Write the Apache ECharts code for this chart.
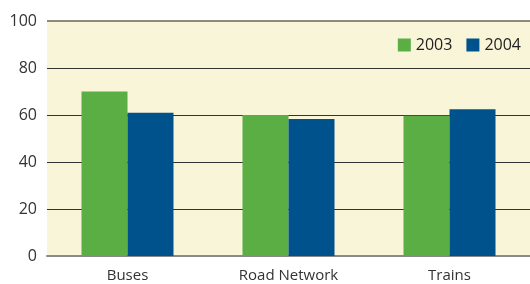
<!DOCTYPE html>
<html>
<head>
<meta charset="utf-8">
<script src="https://cdn.jsdelivr.net/npm/echarts@6/dist/echarts.min.js"></script>
<style>
  html, body { margin: 0; padding: 0; background: #fff; }
  #main { width: 530px; height: 284px; }
</style>
</head>
<body>
<div id="main"></div>
<script>
var categories = ['Buses', 'Road Network', 'Trains'];
var seriesNames = ['2003', '2004'];
var values2003 = [70, 60, 59.7];
var values2004 = [61, 58.3, 62.5];
var yTicks = [0, 20, 40, 60, 80, 100];

var fontFamily = '"Open Sans", sans-serif';

var myChart = echarts.init(document.getElementById('main'));
var option = {
    animation: false,
    // 图例
    legend: {
        data: seriesNames,
        right: 4,
        top: 32,
        itemWidth: 13,
        itemHeight: 13,
        itemGap: 14,
        icon: 'rect',
        textStyle: { fontFamily: fontFamily, fontSize: 16, color: '#222' }
    },
    grid: {
        left: 47,
        right: 0,
        top: 21,
        bottom: 28,
        show: true,
        backgroundColor: '#f8f5d8',
        borderWidth: 0
    },
    xAxis: {
        type: 'category',
        data: categories,
        axisTick: { show: false },
        axisLine: { lineStyle: { color: '#8a8a8a', width: 2 } },
        axisLabel: { fontFamily: fontFamily, fontSize: 15, color: '#333', margin: 12 }
    },
    yAxis: {
        type: 'value',
        min: yTicks[0],
        max: yTicks[yTicks.length - 1],
        interval: 20,
        axisLine: { show: false },
        axisTick: { show: false },
        axisLabel: { fontFamily: fontFamily, fontSize: 16, color: '#333', margin: 10 },
        splitLine: {
            lineStyle: {
                color: ['#8a8a8a', '#333', '#333', '#333', '#333', '#8c8a78'],
                width: 1
            }
        }
    },
    series: [
        {
            name: seriesNames[0],
            type: 'bar',
            data: values2003,
            barWidth: 46,
            barGap: '0%',
            itemStyle: { color: '#5aae44' },
            // 顶部较粗的灰线
            markLine: {
                silent: true,
                symbol: 'none',
                label: { show: false },
                lineStyle: { color: '#8c8a78', width: 2, type: 'solid' },
                data: [{ yAxis: yTicks[yTicks.length - 1] }]
            }
        },
        {
            name: seriesNames[1],
            type: 'bar',
            data: values2004,
            barWidth: 46,
            barGap: '0%',
            itemStyle: { color: '#00528c' }
        }
    ]
};
myChart.setOption(option);
</script>
</body>
</html>
